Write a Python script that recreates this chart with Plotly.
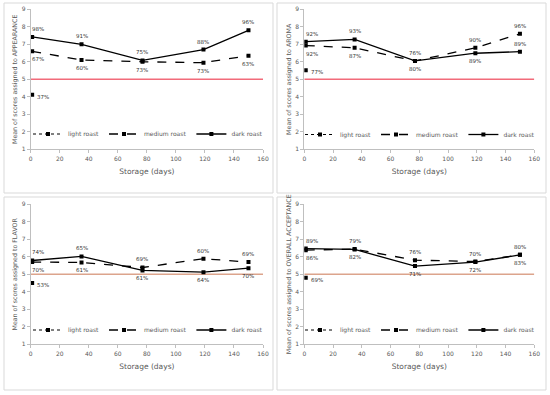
import plotly.graph_objects as go
from plotly.subplots import make_subplots

days = [1, 35, 77, 119, 150]
light_day = [1]

attributes = ["APPEARANCE", "AROMA", "FLAVOR", "OVERALL ACCEPTANCE"]

# Mean scores
light_roast = {
    "APPEARANCE": [4.12],
    "AROMA": [5.52],
    "FLAVOR": [4.5],
    "OVERALL ACCEPTANCE": [4.8],
}
medium_roast = {
    "APPEARANCE": [6.6, 6.1, 6.0, 5.95, 6.35],
    "AROMA": [6.93, 6.8, 6.05, 6.8, 7.6],
    "FLAVOR": [5.7, 5.68, 5.39, 5.89, 5.7],
    "OVERALL ACCEPTANCE": [6.38, 6.44, 5.81, 5.73, 6.11],
}
dark_roast = {
    "APPEARANCE": [7.42, 7.0, 6.08, 6.7, 7.8],
    "AROMA": [7.15, 7.28, 6.05, 6.49, 6.58],
    "FLAVOR": [5.79, 6.02, 5.22, 5.12, 5.35],
    "OVERALL ACCEPTANCE": [6.47, 6.42, 5.47, 5.7, 6.11],
}

# Acceptance percentages (labels)
light_pct = {
    "APPEARANCE": ["37%"],
    "AROMA": ["77%"],
    "FLAVOR": ["53%"],
    "OVERALL ACCEPTANCE": ["69%"],
}
medium_pct = {
    "APPEARANCE": ["67%", "60%", "73%", "73%", "63%"],
    "AROMA": ["92%", "87%", "80%", "90%", "96%"],
    "FLAVOR": ["70%", "61%", "69%", "60%", "69%"],
    "OVERALL ACCEPTANCE": ["86%", "79%", "76%", "70%", "80%"],
}
dark_pct = {
    "APPEARANCE": ["98%", "91%", "75%", "88%", "96%"],
    "AROMA": ["92%", "93%", "76%", "89%", "89%"],
    "FLAVOR": ["74%", "65%", "61%", "64%", "70%"],
    "OVERALL ACCEPTANCE": ["89%", "82%", "71%", "72%", "83%"],
}

# label placement (style): +1 above, -1 below
medium_side = {
    "APPEARANCE": [-1, -1, -1, -1, -1],
    "AROMA": [-1, -1, -1, 1, 1],
    "FLAVOR": [-1, -1, 1, 1, 1],
    "OVERALL ACCEPTANCE": [-1, 1, 1, 1, 1],
}
dark_side = {
    "APPEARANCE": [1, 1, 1, 1, 1],
    "AROMA": [1, 1, 1, -1, 1],
    "FLAVOR": [1, 1, -1, -1, -1],
    "OVERALL ACCEPTANCE": [1, -1, -1, -1, -1],
}

threshold = 5
threshold_x = [0, 160]
x_ticks = [0, 20, 40, 60, 80, 100, 120, 140, 160]
y_ticks = [1, 2, 3, 4, 5, 6, 7, 8, 9]

W, H = 550, 395
FONT = "DejaVu Sans"
GRAY = "#595959"

fig = make_subplots(rows=2, cols=2)

# pixel layout
plot_x = [(30.7, 263.0), (304.3, 534.3), (30.7, 263.0), (304.3, 534.3)]
plot_y = [(9.3, 149.3), (9.3, 149.3), (204.3, 344.3), (204.3, 344.3)]
boxes = [(4, 3, 273, 193), (277, 3, 546, 193), (4, 197, 273, 390), (277, 197, 546, 390)]
legend_pos = [(148, 134), (420, 134.5), (148, 330), (420, 330)]
ref_colors = ["#F26B7A", "#F26B7A", "#DCA48C", "#DCA48C"]

for i, attr in enumerate(attributes):
    r, c = i // 2 + 1, i % 2 + 1
    leg = "legend" if i == 0 else f"legend{i+1}"
    # threshold line
    fig.add_trace(go.Scatter(x=threshold_x, y=[threshold, threshold], mode="lines",
                             line=dict(color=ref_colors[i], width=1.5),
                             showlegend=False, hoverinfo="skip"), row=r, col=c)
    fig.add_trace(go.Scatter(x=light_day, y=light_roast[attr], name="light roast",
                             mode="lines+markers", legend=leg,
                             line=dict(color="black", width=1, dash="dot"),
                             marker=dict(symbol="square", size=4, color="black")),
                  row=r, col=c)
    fig.add_trace(go.Scatter(x=days, y=medium_roast[attr], name="medium roast",
                             mode="lines+markers", legend=leg,
                             line=dict(color="black", width=1.3, dash="dash"),
                             marker=dict(symbol="square", size=4, color="black")),
                  row=r, col=c)
    fig.add_trace(go.Scatter(x=days, y=dark_roast[attr], name="dark roast",
                             mode="lines+markers", legend=leg,
                             line=dict(color="black", width=1.3),
                             marker=dict(symbol="square", size=4, color="black")),
                  row=r, col=c)

    xa = "xaxis" if i == 0 else f"xaxis{i+1}"
    ya = "yaxis" if i == 0 else f"yaxis{i+1}"
    xref = "x" if i == 0 else f"x{i+1}"
    yref = "y" if i == 0 else f"y{i+1}"
    x0, x1 = plot_x[i]
    y0, y1 = plot_y[i]
    fig.layout[xa].update(domain=[x0 / W, x1 / W], range=[0, 160], tickvals=x_ticks,
                          showgrid=False, zeroline=False, showline=True, linecolor="#BFBFBF",
                          linewidth=1, ticks="outside", ticklen=3, tickcolor="#BFBFBF",
                          tickfont=dict(family=FONT, size=6, color=GRAY),
                          title=dict(text="Storage (days)", standoff=8,
                                     font=dict(family=FONT, size=7.5, color=GRAY)),
                          automargin=False)
    fig.layout[ya].update(domain=[1 - y1 / H, 1 - y0 / H], range=[1, 9], tickvals=y_ticks,
                          showgrid=False, zeroline=False, showline=True, linecolor="#BFBFBF",
                          linewidth=1, ticks="outside", ticklen=3, tickcolor="#BFBFBF",
                          tickfont=dict(family=FONT, size=6, color=GRAY),
                          title=dict(text=f"Mean of scores assigned to {attr}", standoff=3,
                                     font=dict(family=FONT, size=6.3, color=GRAY)),
                          automargin=False)

    # labels
    lab_font = dict(family=FONT, size=5.5, color="#333333")
    for k, d in enumerate(days):
        xs = 6 if k == 0 else 0
        fig.add_annotation(x=d, y=dark_roast[attr][k], xref=xref, yref=yref,
                           text=dark_pct[attr][k], showarrow=False, font=lab_font,
                           xshift=xs, yshift=8 * dark_side[attr][k])
        fig.add_annotation(x=d, y=medium_roast[attr][k], xref=xref, yref=yref,
                           text=medium_pct[attr][k], showarrow=False, font=lab_font,
                           xshift=xs, yshift=8 * medium_side[attr][k])
    fig.add_annotation(x=light_day[0], y=light_roast[attr][0], xref=xref, yref=yref,
                       text=light_pct[attr][0], showarrow=False, font=lab_font,
                       xshift=11, yshift=-2)

    # panel border
    bx0, by0, bx1, by1 = boxes[i]
    fig.add_shape(type="rect", xref="paper", yref="paper",
                  x0=bx0 / W, x1=bx1 / W, y0=1 - by1 / H, y1=1 - by0 / H,
                  line=dict(color="#D9D9D9", width=1), fillcolor="rgba(0,0,0,0)")

    lx, ly = legend_pos[i]
    fig.layout[leg] = dict(orientation="h", x=lx / W, y=1 - ly / H, xanchor="center",
                           yanchor="middle", bgcolor="rgba(0,0,0,0)",
                           font=dict(family=FONT, size=6, color=GRAY),
                           itemwidth=30, tracegroupgap=0)

fig.update_layout(width=W, height=H, margin=dict(l=0, r=0, t=0, b=0),
                  paper_bgcolor="white", plot_bgcolor="white")

fig.write_html("out.html", config={"displayModeBar": False},
               post_script="document.body.style.margin='0';document.body.style.padding='0';")
